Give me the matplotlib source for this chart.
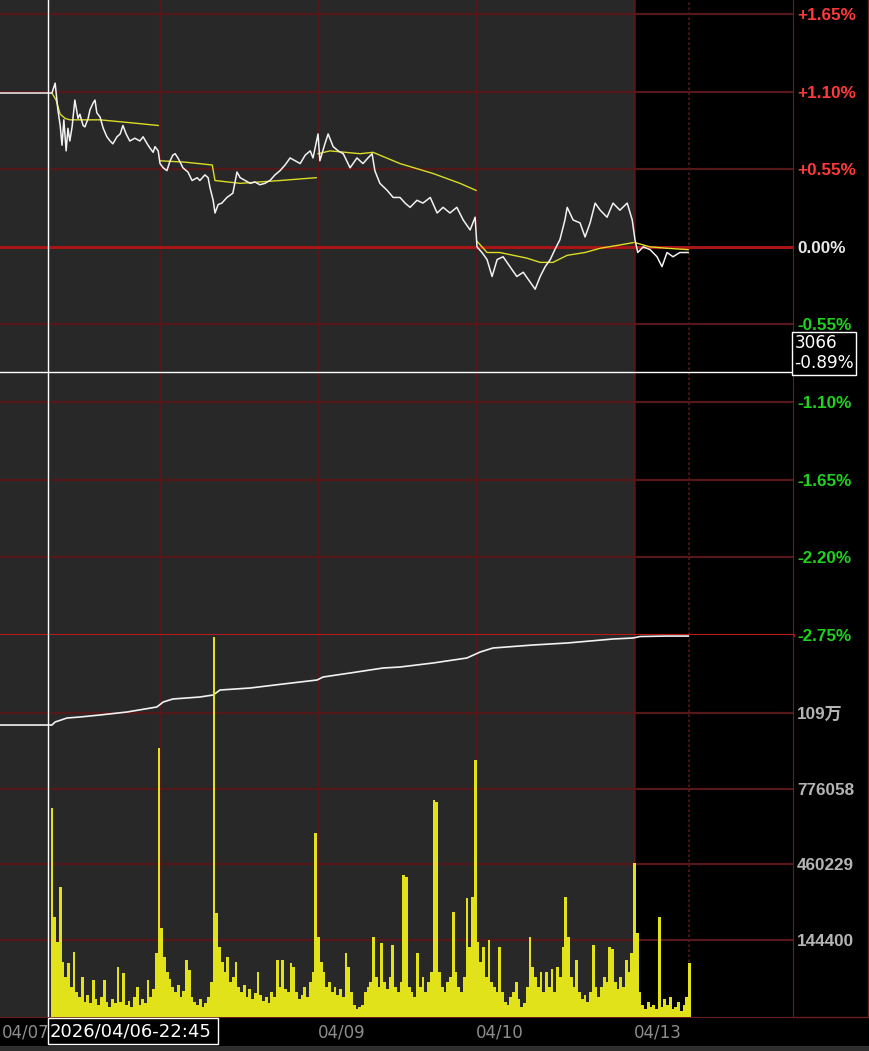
import numpy as np
import matplotlib
matplotlib.use('Agg')
import matplotlib.pyplot as plt
from matplotlib.transforms import blended_transform_factory
from matplotlib.patches import Rectangle
from matplotlib.lines import Line2D

plt.rcParams['font.family'] = ['Liberation Sans', 'Noto Sans CJK SC', 'DejaVu Sans']

# time axis: minutes from the 21:00 night open of trading day 04/07, 345 minutes per trading day
day_len = 345
night_len = 120
day_labels = ['04/07', '04/08', '04/09', '04/10', '04/13']
day_starts = [day_len * i for i in range(len(day_labels))]

# price, % change vs previous settlement
price_t = [-5, 109, 116, 122, 127, 131, 135, 140, 144, 148,
           153, 159, 166, 170, 177, 181, 188, 192, 199, 203,
           207, 214, 221, 229, 236, 242, 251, 258, 264, 271,
           279, 290, 301, 308, 317, 323, 330, 334, 341, 345,
           352, 360, 367, 373, 378, 384, 389, 395, 406, 415,
           426, 432, 443, 450, 454, 461, 465, 472, 480, 491,
           504, 513, 520, 531, 542, 552, 563, 574, 585, 596,
           607, 618, 629, 640, 651, 662, 673, 679, 690, 694,
           705, 712, 723, 734, 745, 760, 775, 788, 799, 808,
           814, 825, 841, 854, 869, 880, 891, 906, 919, 935,
           950, 963, 978, 993, 1007, 1022, 1033, 1037, 1048, 1059,
           1070, 1081, 1094, 1109, 1124, 1138, 1153, 1164, 1175, 1186,
           1197, 1207, 1218, 1229, 1234, 1247, 1262, 1273, 1284, 1295,
           1306, 1321, 1334, 1349, 1365, 1376, 1382, 1388, 1400, 1415,
           1430, 1441, 1452, 1465, 1480, 1498]
price_pct = [1.09, 1.09, 1.16, 0.97, 0.86, 0.72, 0.90, 0.68, 0.84, 0.75,
             0.85, 1.04, 0.91, 0.94, 0.86, 0.85, 0.91, 0.97, 1.02, 1.04,
             0.95, 0.92, 0.84, 0.78, 0.75, 0.73, 0.78, 0.80, 0.86, 0.80,
             0.75, 0.77, 0.75, 0.78, 0.73, 0.70, 0.67, 0.71, 0.68, 0.59,
             0.56, 0.54, 0.61, 0.65, 0.66, 0.63, 0.60, 0.56, 0.53, 0.47,
             0.49, 0.47, 0.51, 0.49, 0.42, 0.33, 0.24, 0.30, 0.31, 0.35,
             0.38, 0.53, 0.49, 0.47, 0.45, 0.46, 0.44, 0.45, 0.47, 0.51,
             0.54, 0.58, 0.63, 0.61, 0.59, 0.65, 0.68, 0.63, 0.80, 0.61,
             0.73, 0.80, 0.71, 0.68, 0.66, 0.56, 0.63, 0.59, 0.63, 0.66,
             0.54, 0.45, 0.40, 0.35, 0.35, 0.31, 0.28, 0.33, 0.31, 0.35,
             0.24, 0.28, 0.24, 0.28, 0.19, 0.12, 0.21, 0.00, -0.04, -0.09,
             -0.21, -0.09, -0.07, -0.14, -0.21, -0.18, -0.25, -0.30, -0.21, -0.14,
             -0.09, -0.02, 0.05, 0.19, 0.28, 0.19, 0.17, 0.07, 0.17, 0.31,
             0.26, 0.21, 0.31, 0.26, 0.31, 0.19, 0.05, -0.04, 0.00, -0.02,
             -0.07, -0.14, -0.04, -0.07, -0.04, -0.04]

# average price line, one piece per trading day (nan = break)
nan = np.nan
avg_t = [109, 118, 127, 138, 148, 214, 279, 341, nan,
         345, 400, 459, 465, 520, 607, 686, nan,
         690, 716, 782, 810, 869, 941, 1000, 1035, nan,
         1037, 1059, 1087, 1146, 1175, 1203, 1234, 1273, 1306, 1343, 1378, nan,
         1382, 1415, 1452, 1498]
avg_pct = [1.09, 1.04, 0.94, 0.91, 0.90, 0.90, 0.88, 0.86, nan,
           0.61, 0.60, 0.58, 0.47, 0.45, 0.47, 0.49, nan,
           0.66, 0.68, 0.66, 0.67, 0.59, 0.52, 0.45, 0.40, nan,
           0.04, -0.04, -0.04, -0.08, -0.11, -0.11, -0.06, -0.04, -0.01, 0.01, 0.03, nan,
           0.03, 0.00, -0.01, -0.02]

# white line in the lower panel
cum_t = [-5, 109, 116, 142, 170, 214, 273, 338, 352, 373,
         432, 461, 476, 542, 614, 688, 701, 760, 832, 869,
         941, 1015, 1044, 1072, 1159, 1234, 1334, 1378, 1393, 1452, 1498]
cum_v = [1041700, 1041700, 1054300, 1071000, 1075100, 1083500, 1096000, 1116900, 1137700, 1150300,
         1158600, 1167000, 1187800, 1196200, 1212900, 1229600, 1242100, 1258800, 1279600, 1283800,
         1300500, 1321400, 1346400, 1363100, 1375600, 1384000, 1400700, 1404900, 1411000, 1413000, 1413000]

# volume per 6-minute bar (thousand lots), first bar at minute 109
first_bar = 109
bar_minutes = 6
volume = [836, 400, 300, 520, 220, 160, 216, 120, 260, 100,
          80, 160, 60, 88, 56, 148, 72, 48, 80, 148,
          60, 40, 72, 56, 200, 60, 176, 48, 64, 40,
          80, 120, 48, 72, 56, 148, 80, 112, 256, 1076,
          356, 240, 180, 152, 120, 100, 128, 80, 104, 228,
          188, 80, 60, 48, 72, 40, 56, 80, 140, 1520,
          416, 280, 220, 180, 240, 140, 160, 220, 120, 100,
          128, 80, 112, 72, 96, 180, 88, 64, 80, 56,
          100, 80, 228, 120, 228, 112, 100, 216, 200, 100,
          72, 88, 120, 80, 140, 180, 736, 320, 220, 180,
          120, 140, 100, 120, 88, 112, 80, 256, 200, 100,
          48, 32, 40, 48, 100, 120, 140, 320, 160, 120,
          296, 140, 112, 160, 288, 120, 100, 140, 568, 560,
          120, 100, 80, 256, 120, 160, 100, 140, 180, 868,
          860, 180, 120, 100, 140, 160, 420, 180, 120, 100,
          160, 476, 280, 480, 1028, 300, 220, 280, 160, 308,
          140, 120, 100, 280, 100, 60, 48, 80, 100, 140,
          72, 40, 56, 120, 320, 200, 160, 120, 180, 100,
          180, 120, 192, 100, 200, 160, 280, 480, 320, 160,
          120, 228, 100, 72, 88, 60, 100, 288, 120, 80,
          120, 160, 140, 280, 272, 140, 112, 160, 120, 228,
          180, 256, 616, 336, 100, 48, 32, 60, 40, 48,
          32, 400, 40, 72, 48, 80, 32, 40, 60, 24,
          48, 80, 216]
vol_t = first_bar + bar_minutes * np.arange(len(volume))

pct_ticks = [1.65, 1.10, 0.55, 0.00, -0.55, -1.10, -1.65, -2.20, -2.75]
vol_ticks = [1091887, 776058, 460229, 144400]
vol_tick_labels = ['109万', '776058', '460229', '144400']

cross_t = 101
cross_price = 3066
cross_pct = -0.89
cross_label = '2026/04/06-22:45'
cross_box_len = 371  # minutes covered by the time box

W, H = 870, 1051
grid_c = '#561719'
frame_c = '#6b1c1c'
x_left, x_right = -4.4, 1727

fig = plt.figure(figsize=(W / 100, H / 100), dpi=100, facecolor='black')
ax = fig.add_axes([0, 416 / H, 793 / W, 635 / H])
ax2 = fig.add_axes([0, 34 / H, 793 / W, 382 / H])
ax_v = ax2.twinx()

for a in (ax, ax2):
    a.set_facecolor('black')
    a.set_xlim(x_left, x_right)
    a.axvspan(x_left, day_starts[-1], color='#282828', lw=0, zorder=0)
    for d in day_starts[1:]:
        a.axvline(d, color=grid_c, lw=1.8, zorder=1)
    a.axvline(day_starts[-1] + night_len, color=grid_c, lw=1.2, ls=(0, (1.5, 1.5)), zorder=1)
    a.axvline(cross_t, color='white', lw=1, zorder=8)
    for s in ('left', 'top'):
        a.spines[s].set_visible(False)
    a.spines['right'].set_color(frame_c)
    a.spines['bottom'].set_color(frame_c)

# price panel
ax.set_ylim(-2.75, 1.749)
for v in pct_ticks:
    if v == 0:
        ax.axhline(v, color='#a81515', lw=2.2, zorder=2)
    else:
        ax.axhline(v, color=grid_c, lw=1.6, zorder=1)
ax.spines['bottom'].set_color('#c41c1c')
ax.spines['bottom'].set_linewidth(2)
ax.plot(avg_t, avg_pct, color='#dcdc26', lw=1, zorder=4)
ax.plot(price_t, price_pct, color='#f2f2f2', lw=1.1, zorder=5)
ax.axhline(cross_pct, color='white', lw=1, zorder=8)

ax.set_xticks([])
ax.yaxis.tick_right()
ax.set_yticks(pct_ticks)
ax.set_yticklabels([('+%.2f%%' % v) if v > 0 else ('%.2f%%' % v) for v in pct_ticks])
ax.tick_params(axis='y', length=0, pad=3, labelsize=12.3)
for lbl, v in zip(ax.get_yticklabels(), pct_ticks):
    lbl.set_fontweight('bold')
    lbl.set_color('#ff3a3a' if v > 0 else ('#1ed21e' if v < 0 else '#e8e8e8'))

ax.text(1 + 1.5 / 793, cross_pct, '%d\n%.2f%%' % (cross_price, cross_pct),
        transform=blended_transform_factory(ax.transAxes, ax.transData),
        ha='left', va='bottom', color='white', fontsize=12.2, family='DejaVu Sans',
        linespacing=1.15, clip_on=False, zorder=10,
        bbox=dict(boxstyle='square,pad=0.12', fc='black', ec='white', lw=1))

# lower panel
ax2.set_ylim(-177000, 1417400)
for v in vol_ticks:
    ax2.axhline(v, color=grid_c, lw=1.6, zorder=1)
ax2.plot(cum_t, cum_v, color='#f2f2f2', lw=1.2, zorder=5)
ax2.yaxis.tick_right()
ax2.set_yticks(vol_ticks)
ax2.set_yticklabels(vol_tick_labels)
ax2.tick_params(axis='y', length=0, pad=3, labelsize=12.3, labelcolor='#b4b4b4')
for lbl in ax2.get_yticklabels():
    lbl.set_fontweight('bold')

# day labels; the one hidden under the crosshair time box is left blank
shown = ['' if cross_t < d < cross_t + cross_box_len else lab
         for d, lab in zip(day_starts, day_labels)]
ax2.set_xticks(day_starts)
ax2.set_xticklabels(shown)
ax2.tick_params(axis='x', length=0, pad=5, labelsize=12, labelcolor='#8c8c8c')
for lbl in ax2.get_xticklabels():
    lbl.set_ha('left')
    lbl.set_family('DejaVu Sans')

ax_v.bar(vol_t, volume, width=bar_minutes, color='#e2e21a', lw=0, align='center', zorder=3)
ax_v.set_ylim(0, 1528)
ax_v.yaxis.set_visible(False)
for s in ax_v.spines.values():
    s.set_visible(False)

# crosshair time box under the axis
tb = blended_transform_factory(ax2.transData, fig.transFigure)
ax2.add_patch(Rectangle((cross_t, 7 / H), cross_box_len, 26 / H, transform=tb, fc='black',
                        ec='white', lw=1, clip_on=False, zorder=10))
ax2.text(cross_t + 4, 20 / H, cross_label, transform=tb, ha='left', va='center',
         color='white', fontsize=13, family='DejaVu Sans', clip_on=False, zorder=11)

# right label frame and bottom strip
fig.add_artist(Line2D([868 / W, 868 / W], [34 / H, 1], color=frame_c, lw=1))
fig.add_artist(Line2D([793 / W, 868 / W], [34 / H, 34 / H], color=frame_c, lw=1))
fig.add_artist(Rectangle((0, 0), 1, 5 / H, transform=fig.transFigure, fc='#2e2e2e', lw=0))

fig.savefig('out.png', dpi=100, facecolor='black')
